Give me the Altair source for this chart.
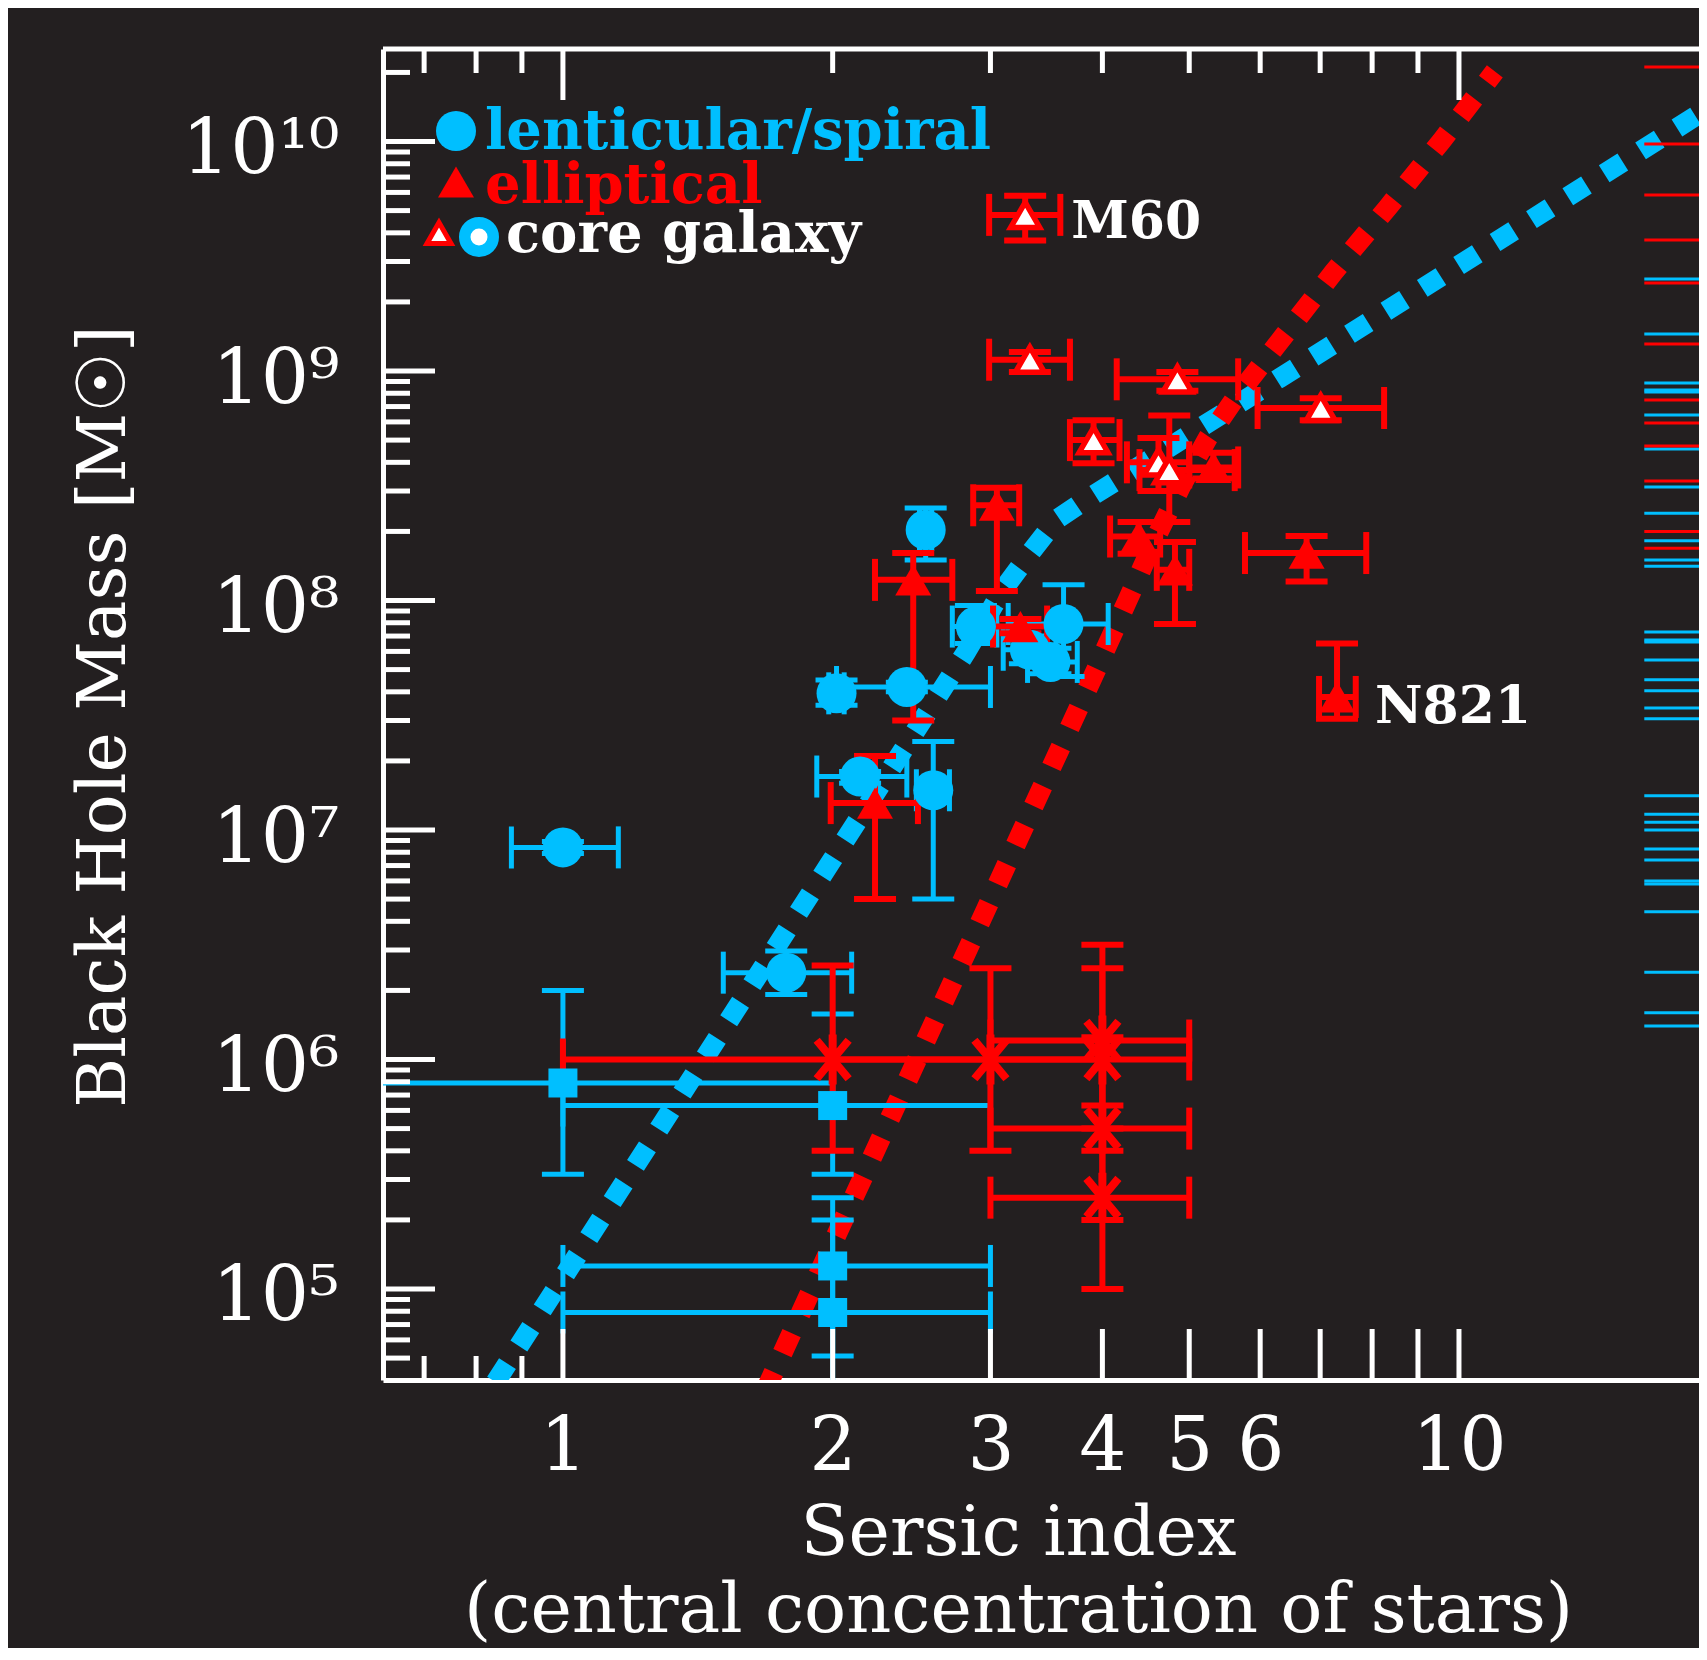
import altair as alt
import pandas as pd

BG = '#231f20'
BLUE = '#00bfff'
RED = '#ff0000'
WHITE = '#ffffff'
FONT = 'DejaVu Serif'

W, H = 1316, 1331
XDOM = [0.6298, 18.53]
YDOM = [4.013e4, 2.53e10]

# ---- lenticular / spiral galaxies (blue circles)
lent_n = [1.00, 1.775, 2.02, 2.42, 2.146, 2.59, 2.54, 2.89, 3.32, 3.50, 3.62]
lent_m = [8.4e6, 2.39e6, 3.94e7, 4.2e7, 1.71e7, 1.49e7, 2.03e8, 7.7e7, 6.1e7, 5.4e7, 7.9e7]
lent_nlo = [0.876, 1.51, 1.98, 2.02, 1.92, 2.48, 2.50, 2.72, 3.10, 3.30, 3.14]
lent_nhi = [1.153, 2.10, 2.06, 3.00, 2.42, 2.70, 2.58, 3.05, 3.55, 3.75, 4.06]
lent_mlo = [7.9e6, 1.92e6, 3.5e7, 4.0e7, 1.6e7, 5.0e6, 1.5e8, 6.5e7, 5.3e7, 4.8e7, 4.66e7]
lent_mhi = [8.9e6, 2.97e6, 4.5e7, 4.4e7, 1.8e7, 2.43e7, 2.53e8, 9.5e7, 7.0e7, 6.2e7, 1.17e8]

# ---- elliptical galaxies (red triangles)
ell_n = [2.46, 3.05, 2.23, 3.24, 4.39, 4.82, 6.76, 7.31, 5.32]
ell_m = [1.23e8, 2.6e8, 1.31e7, 7.7e7, 1.9e8, 1.36e8, 1.61e8, 3.8e7, 3.8e8]
ell_nlo = [2.23, 2.87, 1.99, 3.02, 4.08, 4.60, 5.77, 6.98, 5.00]
ell_nhi = [2.72, 3.23, 2.49, 3.47, 4.64, 5.00, 7.88, 7.67, 5.67]
ell_mlo = [3.0e7, 1.1e8, 5.0e6, 7.2e7, 1.6e8, 7.9e7, 1.21e8, 3.05e7, 3.4e8]
ell_mhi = [1.61e8, 3.1e8, 2.1e7, 8.3e7, 2.2e8, 1.8e8, 1.91e8, 6.5e7, 4.4e8]

# ---- core elliptical galaxies (red triangles, white centre)
core_n = [3.28, 3.32, 4.85, 7.01, 3.91, 4.62, 4.75]
core_m = [4.79e9, 1.12e9, 9.2e8, 6.9e8, 5.0e8, 4.0e8, 3.7e8]
core_nlo = [2.99, 2.99, 4.15, 5.96, 3.68, 4.26, 4.40]
core_nhi = [3.59, 3.68, 5.67, 8.25, 4.18, 5.00, 5.62]
core_mlo = [3.7e9, 9.9e8, 8.2e8, 6.1e8, 3.96e8, 3.0e8, 2.2e8]
core_mhi = [5.8e9, 1.21e9, 9.9e8, 7.6e8, 6.1e8, 5.1e8, 6.4e8]

# ---- predicted masses (red asterisks)
pred_n = [2.0, 3.0, 4.0, 4.0, 4.0, 4.0]
pred_m = [1.0e6, 1.0e6, 1.21e6, 1.0e6, 5.0e5, 2.5e5]
pred_nlo = [1.0, 2.0, 3.0, 3.0, 3.0, 3.0]
pred_nhi = [3.0, 4.0, 5.0, 5.0, 5.0, 5.0]
pred_mlo = [4.0e5, 4.0e5, 5.0e5, 4.0e5, 2.0e5, 1.0e5]
pred_mhi = [2.57e6, 2.5e6, 3.16e6, 2.5e6, 1.25e6, 6.3e5]

# ---- predicted masses (blue squares)
sq_n = [1.0, 2.0, 2.0, 2.0]
sq_m = [7.9e5, 6.3e5, 1.26e5, 7.9e4]
sq_nlo = [0.5, 1.0, 1.0, 1.0]
sq_nhi = [2.0, 3.0, 3.0, 3.0]
sq_mlo = [3.16e5, 3.16e5, 5.1e4, 3.0e4]
sq_mhi = [2.0e6, 1.58e6, 2.5e5, 2.0e5]

# ---- relations (dotted curves)
blue_curve_n = [0.841, 1.0, 1.259, 1.585, 1.995, 2.512, 2.818, 3.090, 3.311, 3.548,
                3.802, 4.169, 5.012, 6.310, 7.943, 10.0, 12.59, 15.85, 19.05]
blue_curve_m = [3.93e4, 1.12e5, 4.51e5, 1.82e6, 7.35e6, 2.96e7, 5.96e7, 1.10e8, 1.58e8, 2.24e8,
                2.69e8, 3.37e8, 5.31e8, 9.33e8, 1.64e9, 2.89e9, 5.09e9, 8.97e9, 1.41e10]
red_curve_n = [1.679, 1.995, 2.512, 2.884, 3.311, 3.631, 3.981, 4.266, 4.571, 4.898,
               5.248, 5.623, 6.310, 7.244, 8.318, 9.550, 10.965]
red_curve_m = [3.55e4, 1.55e5, 1.10e6, 3.55e6, 1.15e7, 2.51e7, 5.50e7, 1.0e8, 1.82e8, 3.16e8,
               5.13e8, 7.59e8, 1.35e9, 2.69e9, 5.13e9, 1.0e10, 2.02e10]

# ---- rug of masses at right edge
rug_start = 16.1
rug_red = [2.11e10, 9.75e9, 5.85e9, 3.72e9, 2.42e9, 1.31e9, 7.48e8, 5.93e8, 4.71e8,
           3.32e8, 2.0e8, 1.69e8]
rug_blue = [2.52e9, 1.45e9, 8.87e8, 8.26e8, 8.10e8, 6.43e8, 4.57e8, 3.12e8, 2.40e8, 1.82e8,
            1.50e8, 1.41e8, 7.29e7, 6.73e7, 6.60e7, 5.51e7, 4.51e7, 4.04e7, 3.40e7, 3.05e7,
            1.41e7, 1.17e7, 1.08e7, 1.0e7, 8.26e6, 7.41e6, 6.0e6, 5.82e6, 4.40e6, 2.40e6,
            1.60e6, 1.40e6]

# ---- annotations
ann_m60 = {'n': [3.28], 'm': [4.79e9], 'label': ['M60']}
ann_n821 = {'n': [7.31], 'm': [3.8e7], 'label': ['N821']}

# ---- axis ticks / labels
x_labels = [1, 2, 3, 4, 5, 6, 10]
x_top_major = [1, 10]
x_top_minor = [0.7, 0.8, 0.9, 2, 3, 4, 5, 6, 7, 8, 9]
x_bot_major = [1, 2, 3, 4, 5, 6, 7, 8, 9, 10]
x_bot_minor = [0.7, 0.8, 0.9]
y_major = [1e5, 1e6, 1e7, 1e8, 1e9, 1e10]
y_minor = [m * 10 ** k for k in range(4, 11) for m in range(2, 10)
           if YDOM[0] <= m * 10 ** k <= YDOM[1]]

xscale = alt.Scale(type='log', domain=XDOM, nice=False)
yscale = alt.Scale(type='log', domain=YDOM, nice=False)

xaxis = alt.Axis(
    values=x_labels, labelExpr="format(datum.value, 'd')", grid=False, ticks=False, tickSize=0,
    domain=True, domainColor=WHITE, domainWidth=5, labelColor=WHITE, labelFont=FONT,
    labelFontSize=74, labelPadding=89, labelBaseline='alphabetic', labelOverlap=False,
    labelFlush=False,
    title=['Sersic index', '(central concentration of stars)'], titleFont=FONT,
    titleFontSize=70, titleFontWeight='normal', titleColor=WHITE, titleLineHeight=77,
    titleBaseline='alphabetic', titleAlign='center', titleX=635, titleY=174)

ylabel_expr = ("datum.value >= 9e9 ? '10\u00b9\u2070' : datum.value >= 9e8 ? '10\u2079' : "
               "datum.value >= 9e7 ? '10\u2078' : datum.value >= 9e6 ? '10\u2077' : "
               "datum.value >= 9e5 ? '10\u2076' : '10\u2075'")
yaxis = alt.Axis(
    values=y_major, labelExpr=ylabel_expr, grid=False, ticks=False, tickSize=0,
    domain=True, domainColor=WHITE, domainWidth=5, labelColor=WHITE, labelFont=FONT,
    labelFontSize=76, labelPadding=44, labelAlign='right', labelBaseline='alphabetic',
    labelOffset=31, labelOverlap=False, labelFlush=False,
    title='Black Hole Mass [M\u2609]', titleFont=FONT, titleFontSize=68,
    titleFontWeight='normal', titleColor=WHITE, titleAngle=270, titleBaseline='alphabetic',
    titleAlign='center', titleX=-259, titleY=667)


def X(f):
    return alt.X(f, type='quantitative', scale=xscale, axis=xaxis)


def Y(f):
    return alt.Y(f, type='quantitative', scale=yscale, axis=yaxis)


def seg_df(groups):
    rows = []
    for n, m, nlo, nhi, mlo, mhi in groups:
        for a, b, c, d, e, f in zip(n, m, nlo, nhi, mlo, mhi):
            rows.append({'x': a, 'x2': a, 'y': e, 'y2': f})
            rows.append({'x': c, 'x2': d, 'y': b, 'y2': b})
    return pd.DataFrame(rows)


def ycap_df(groups):
    rows = []
    for n, m, nlo, nhi, mlo, mhi in groups:
        for a, e, f in zip(n, mlo, mhi):
            rows.append({'x': a, 'y': e})
            rows.append({'x': a, 'y': f})
    return pd.DataFrame(rows)


def xcap_df(groups):
    rows = []
    for n, m, nlo, nhi, mlo, mhi in groups:
        for b, c, d in zip(m, nlo, nhi):
            rows.append({'x': c, 'y': b})
            rows.append({'x': d, 'y': b})
    return pd.DataFrame(rows)


blue_groups = [(lent_n, lent_m, lent_nlo, lent_nhi, lent_mlo, lent_mhi),
               (sq_n, sq_m, sq_nlo, sq_nhi, sq_mlo, sq_mhi)]
red_groups = [(ell_n, ell_m, ell_nlo, ell_nhi, ell_mlo, ell_mhi),
              (core_n, core_m, core_nlo, core_nhi, core_mlo, core_mhi),
              (pred_n, pred_m, pred_nlo, pred_nhi, pred_mlo, pred_mhi)]

layers = []

# relations
layers.append(alt.Chart(pd.DataFrame({'n': blue_curve_n, 'm': blue_curve_m})).mark_line(
    color=BLUE, strokeWidth=20, strokeDash=[22, 21], strokeCap='butt', clip=True
).encode(x=X('n'), y=Y('m')))
layers.append(alt.Chart(pd.DataFrame({'n': red_curve_n, 'm': red_curve_m})).mark_line(
    color=RED, strokeWidth=20, strokeDash=[22, 21], strokeCap='butt', clip=True
).encode(x=X('n'), y=Y('m')))

# rug lines
for vals, col in [(rug_blue, BLUE), (rug_red, RED)]:
    layers.append(alt.Chart(pd.DataFrame({'n': [rug_start] * len(vals), 'm': vals})).mark_rule(
        color=col, strokeWidth=3, clip=True
    ).encode(x=X('n'), x2=alt.value(W), y=Y('m')))

# error bars
for groups, col, sw in [(blue_groups, BLUE, 5), (red_groups, RED, 6)]:
    layers.append(alt.Chart(seg_df(groups)).mark_rule(color=col, strokeWidth=sw, clip=True).encode(
        x=X('x'), x2='x2', y=Y('y'), y2='y2'))
    layers.append(alt.Chart(ycap_df(groups)).mark_tick(
        color=col, orient='horizontal', size=42, thickness=sw, opacity=1, clip=True
    ).encode(x=X('x'), y=Y('y')))
    layers.append(alt.Chart(xcap_df(groups)).mark_tick(
        color=col, orient='vertical', size=42, thickness=sw, opacity=1, clip=True
    ).encode(x=X('x'), y=Y('y')))

# symbols
layers.append(alt.Chart(pd.DataFrame({'n': sq_n, 'm': sq_m})).mark_point(
    shape='square', filled=True, size=841, color=BLUE, opacity=1, clip=True
).encode(x=X('n'), y=Y('m')))
layers.append(alt.Chart(pd.DataFrame({'n': lent_n, 'm': lent_m})).mark_point(
    shape='circle', filled=True, size=1600, color=BLUE, opacity=1, clip=True
).encode(x=X('n'), y=Y('m')))
ASTER = 'M0,-1L0,1M-0.64,-0.77L0.64,0.77M-0.64,0.77L0.64,-0.77'
layers.append(alt.Chart(pd.DataFrame({'n': pred_n, 'm': pred_m})).mark_point(
    shape=ASTER, filled=False, size=2500, stroke=RED, strokeWidth=8, opacity=1, clip=True
).encode(x=X('n'), y=Y('m')))
layers.append(alt.Chart(pd.DataFrame({'n': ell_n, 'm': ell_m})).mark_point(
    shape='triangle-up', filled=True, size=1296, color=RED, opacity=1, clip=True
).encode(x=X('n'), y=Y('m')))
layers.append(alt.Chart(pd.DataFrame({'n': core_n, 'm': core_m})).mark_point(
    shape='triangle-up', size=841, fill=WHITE, stroke=RED, strokeWidth=5.5,
    fillOpacity=1, strokeOpacity=1, opacity=1, clip=True
).encode(x=X('n'), y=Y('m')))

# annotations
layers.append(alt.Chart(pd.DataFrame(ann_m60)).mark_text(
    font=FONT, fontWeight='bold', fontSize=52, color=WHITE, align='left',
    baseline='alphabetic', dx=46, dy=23
).encode(x=X('n'), y=Y('m'), text='label'))
layers.append(alt.Chart(pd.DataFrame(ann_n821)).mark_text(
    font=FONT, fontWeight='bold', fontSize=52, color=WHITE, align='left',
    baseline='alphabetic', dx=38, dy=26
).encode(x=X('n'), y=Y('m'), text='label'))

# axis ticks (inward) and top frame line
one = pd.DataFrame({'a': [0]})


def xtick(vals, y0, y1):
    return alt.Chart(pd.DataFrame({'v': vals})).mark_rule(color=WHITE, strokeWidth=5).encode(
        x=X('v'), y=alt.value(y0), y2=alt.value(y1))


def ytick(vals, length):
    return alt.Chart(pd.DataFrame({'v': vals})).mark_rule(color=WHITE, strokeWidth=5).encode(
        y=Y('v'), x=alt.value(0), x2=alt.value(length))


layers += [xtick(x_top_major, 0, 51), xtick(x_top_minor, 0, 24),
           xtick(x_bot_major, H, H - 51), xtick(x_bot_minor, H, H - 24),
           ytick(y_major, 52), ytick(y_minor, 27)]
layers.append(alt.Chart(one).mark_rule(color=WHITE, strokeWidth=5).encode(
    x=alt.value(0), x2=alt.value(W), y=alt.value(0)))

# legend (drawn inside the plot, top-left)
LEG_FONT = dict(font=FONT, fontWeight='bold', fontSize=56, align='left', baseline='alphabetic')
layers.append(alt.Chart(one).mark_point(shape='circle', filled=True, size=1600, color=BLUE,
                                        opacity=1).encode(x=alt.value(73), y=alt.value(82)))
layers.append(alt.Chart(one).mark_point(shape='triangle-up', filled=True, size=1296, color=RED,
                                        opacity=1).encode(x=alt.value(73), y=alt.value(133)))
layers.append(alt.Chart(one).mark_point(shape='triangle-up', size=576, fill=WHITE, stroke=RED,
                                        strokeWidth=5, fillOpacity=1, opacity=1
                                        ).encode(x=alt.value(56), y=alt.value(184)))
layers.append(alt.Chart(one).mark_point(shape='circle', size=812, fill=WHITE, stroke=BLUE,
                                        strokeWidth=11.5, fillOpacity=1, opacity=1
                                        ).encode(x=alt.value(96), y=alt.value(188)))
layers.append(alt.Chart(one).mark_text(color=BLUE, **LEG_FONT).encode(
    x=alt.value(102), y=alt.value(100), text=alt.value('lenticular/spiral')))
layers.append(alt.Chart(one).mark_text(color=RED, **LEG_FONT).encode(
    x=alt.value(102), y=alt.value(154), text=alt.value('elliptical')))
layers.append(alt.Chart(one).mark_text(color=WHITE, **LEG_FONT).encode(
    x=alt.value(123), y=alt.value(203), text=alt.value('core galaxy')))

chart = alt.layer(*layers).properties(
    width=W, height=H,
    padding={'left': 375, 'top': 41, 'right': 0, 'bottom': 268},
    autosize=alt.AutoSizeParams(type='none'),
).configure(background=BG).configure_view(stroke=None)

chart.save('out.html', embed_options={'renderer': 'svg', 'actions': False})
